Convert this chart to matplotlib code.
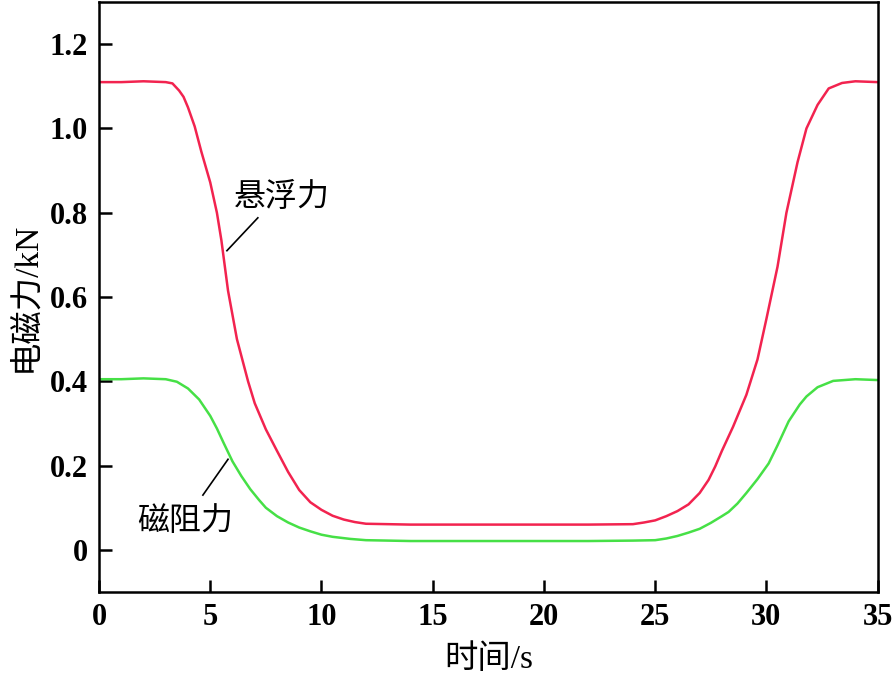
import matplotlib.pyplot as plt

# 悬浮力 (levitation force), kN
t_lev = [0, 1, 2, 3, 3.3, 3.6, 3.8, 4.0, 4.3, 4.6, 5.0, 5.3, 5.5, 5.8, 6.2, 6.7, 7.0,
         7.5, 8.0, 8.5, 9.0, 9.5, 10.0, 10.5, 11.0, 11.5, 12, 14, 16, 18, 20, 22,
         24, 24.5, 25, 25.5, 26, 26.5, 27, 27.4, 27.7, 28, 28.5, 29.1, 29.6, 30.0,
         30.5, 30.9, 31.4, 31.8, 32.3, 32.8, 33.4, 34, 35]
f_lev = [1.11, 1.11, 1.112, 1.11, 1.107, 1.09, 1.075, 1.05, 1.005, 0.945, 0.872,
         0.80, 0.735, 0.615, 0.50, 0.40, 0.348, 0.286, 0.235, 0.185, 0.142, 0.113,
         0.095, 0.081, 0.072, 0.066, 0.062, 0.06, 0.06, 0.06, 0.06, 0.06, 0.061,
         0.065, 0.07, 0.08, 0.092, 0.108, 0.135, 0.166, 0.198, 0.235, 0.292,
         0.368, 0.452, 0.548, 0.672, 0.80, 0.92, 1.0, 1.056, 1.095, 1.108, 1.112,
         1.11]

# 磁阻力 (magnetic drag force), kN
t_drag = [0, 1, 2, 3, 3.5, 4.0, 4.5, 5.0, 5.3, 5.6, 6.0, 6.4, 6.8, 7.2, 7.5, 8.0,
          8.5, 9.0, 9.5, 10.0, 10.5, 11.3, 12, 14, 16, 18, 20, 22, 24, 25, 25.5,
          26, 26.5, 27, 27.5, 28, 28.3, 28.7, 29.1, 29.6, 30.1, 30.5, 31.0, 31.5,
          31.8, 32.3, 33, 34, 35]
f_drag = [0.405, 0.405, 0.407, 0.405, 0.399, 0.383, 0.357, 0.318, 0.288, 0.254,
          0.21, 0.175, 0.144, 0.118, 0.1, 0.08, 0.065, 0.053, 0.044, 0.036,
          0.031, 0.026, 0.023, 0.021, 0.021, 0.021, 0.021, 0.021, 0.022, 0.023,
          0.027, 0.033, 0.041, 0.05, 0.064, 0.08, 0.09, 0.11, 0.135, 0.168, 0.205,
          0.248, 0.305, 0.345, 0.364, 0.386, 0.401, 0.405, 0.403]

xticks = [0, 5, 10, 15, 20, 25, 30, 35]
yticks = [0, 0.2, 0.4, 0.6, 0.8, 1.0, 1.2]
ytick_labels = ['0', '0.2', '0.4', '0.6', '0.8', '1.0', '1.2']

serif = ['Liberation Serif', 'Noto Sans CJK SC']
cjk = ['Noto Sans CJK SC', 'Liberation Serif']


def main():
    fig = plt.figure(figsize=(8.96, 6.86), dpi=100)
    ax = fig.add_axes([0.1105, 0.137, 0.869, 0.860])

    ax.plot(t_lev, f_lev, color='#F2234F', lw=1.8)
    ax.plot(t_drag, f_drag, color='#46E046', lw=1.8)

    ax.set_xlim(0, 35)
    ax.set_ylim(-0.1, 1.3)
    ax.set_xticks(xticks)
    ax.set_yticks(yticks)
    ax.set_yticklabels(ytick_labels)
    ax.tick_params(direction='in', length=9, width=1.8, top=False, right=False,
                   labelsize=22, pad=8)
    for lab in ax.get_xticklabels() + ax.get_yticklabels():
        lab.set_family(serif)
        lab.set_fontweight('bold')
    for sp in ax.spines.values():
        sp.set_linewidth(1.8)

    ax.set_xlabel('时间/s', family=serif, fontsize=24, labelpad=9)
    ax.set_ylabel('电磁力/kN', family=serif, fontsize=24, labelpad=6)

    # annotations
    ax.text(6.05, 0.838, '悬浮力', family=cjk, fontsize=23, va='center', ha='left')
    ax.plot([5.75, 7.14], [0.71, 0.788], color='black', lw=1.2)
    ax.text(1.7, 0.069, '磁阻力', family=cjk, fontsize=23, va='center', ha='left')
    ax.plot([4.67, 5.8], [0.13, 0.215], color='black', lw=1.2)

    fig.savefig('out.png', dpi=100)


if __name__ == '__main__':
    main()
